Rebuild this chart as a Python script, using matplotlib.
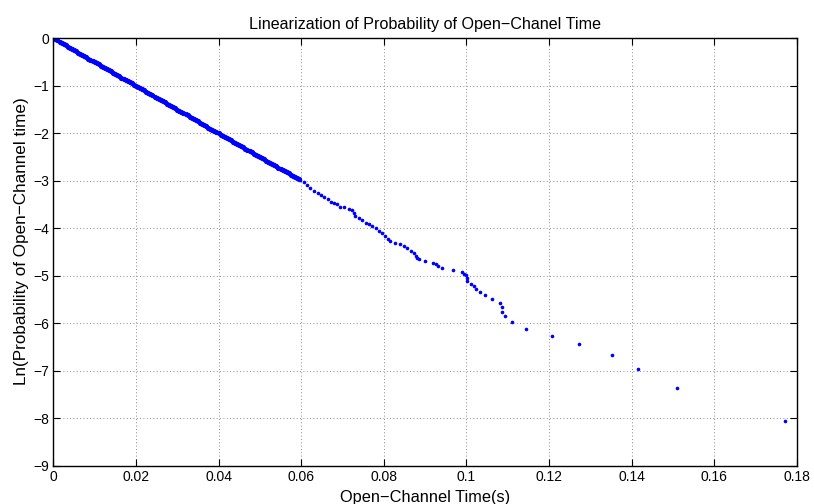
import matplotlib
matplotlib.use('Agg')
import matplotlib.pyplot as plt

# dense part of the curve
dense_t = [0.0000, 0.0005, 0.0010, 0.0015, 0.0020, 0.0025, 0.0030, 0.0035, 0.0040, 0.0045,
           0.0050, 0.0055, 0.0060, 0.0065, 0.0070, 0.0075, 0.0080, 0.0085, 0.0090, 0.0095,
           0.0100, 0.0105, 0.0110, 0.0115, 0.0120, 0.0125, 0.0130, 0.0135, 0.0140, 0.0145,
           0.0150, 0.0155, 0.0160, 0.0165, 0.0170, 0.0175, 0.0180, 0.0185, 0.0190, 0.0195,
           0.0200, 0.0205, 0.0210, 0.0215, 0.0220, 0.0225, 0.0230, 0.0235, 0.0240, 0.0245,
           0.0250, 0.0255, 0.0260, 0.0265, 0.0270, 0.0275, 0.0280, 0.0285, 0.0290, 0.0295,
           0.0300, 0.0305, 0.0310, 0.0315, 0.0320, 0.0325, 0.0330, 0.0335, 0.0340, 0.0345,
           0.0350, 0.0355, 0.0360, 0.0365, 0.0370, 0.0375, 0.0380, 0.0385, 0.0390, 0.0395,
           0.0400, 0.0405, 0.0410, 0.0415, 0.0420, 0.0425, 0.0430, 0.0435, 0.0440, 0.0445,
           0.0450, 0.0455, 0.0460, 0.0465, 0.0470, 0.0475, 0.0480, 0.0485, 0.0490, 0.0495,
           0.0500, 0.0505, 0.0510, 0.0515, 0.0520, 0.0525, 0.0530, 0.0535, 0.0540, 0.0545,
           0.0550, 0.0555, 0.0560, 0.0565, 0.0570, 0.0575, 0.0580, 0.0585, 0.0590, 0.0595]
dense_lnp = [0.000, -0.018, -0.041, -0.072, -0.098, -0.124, -0.151, -0.176, -0.199, -0.224,
             -0.249, -0.276, -0.301, -0.326, -0.350, -0.374, -0.399, -0.425, -0.452, -0.476,
             -0.500, -0.523, -0.548, -0.574, -0.601, -0.627, -0.651, -0.674, -0.698, -0.722,
             -0.748, -0.774, -0.799, -0.825, -0.851, -0.876, -0.899, -0.922, -0.947, -0.973,
             -0.999, -1.026, -1.050, -1.073, -1.097, -1.121, -1.147, -1.175, -1.201, -1.226,
             -1.250, -1.273, -1.297, -1.323, -1.349, -1.376, -1.401, -1.424, -1.448, -1.473,
             -1.500, -1.526, -1.551, -1.575, -1.598, -1.622, -1.648, -1.676, -1.702, -1.727,
             -1.750, -1.772, -1.797, -1.823, -1.850, -1.877, -1.902, -1.925, -1.948, -1.972,
             -1.998, -2.025, -2.051, -2.075, -2.097, -2.121, -2.147, -2.174, -2.201, -2.227,
             -2.250, -2.272, -2.296, -2.322, -2.349, -2.376, -2.402, -2.425, -2.448, -2.472,
             -2.497, -2.523, -2.550, -2.575, -2.598, -2.620, -2.644, -2.670, -2.697, -2.724,
             -2.749, -2.771, -2.794, -2.818, -2.844, -2.870, -2.895, -2.918, -2.940, -2.962]

# sparse tail
tail_t = [0.0598, 0.0606, 0.0614, 0.0622, 0.0630, 0.0640, 0.0648, 0.0656, 0.0664, 0.0672,
          0.0679, 0.0687, 0.0695, 0.0703, 0.0715, 0.0723, 0.0727, 0.0731, 0.0739, 0.0747,
          0.0756, 0.0764, 0.0772, 0.0780, 0.0788, 0.0796, 0.0804, 0.0810, 0.0816, 0.0828,
          0.0839, 0.0849, 0.0857, 0.0867, 0.0873, 0.0877, 0.0881, 0.0885, 0.0899, 0.0919,
          0.0927, 0.0932, 0.0941, 0.0967, 0.0989, 0.0993, 0.0998, 0.1001, 0.1002, 0.1010,
          0.1019, 0.1023, 0.1032, 0.1044, 0.1063, 0.1081, 0.1086, 0.1087, 0.1093, 0.1111,
          0.1145, 0.1206, 0.1272, 0.1353, 0.1415, 0.1509, 0.1770]
tail_lnp = [-2.98, -3.03, -3.085, -3.155, -3.205, -3.26, -3.295, -3.33, -3.385, -3.44,
            -3.46, -3.485, -3.54, -3.56, -3.60, -3.61, -3.67, -3.74, -3.79, -3.82,
            -3.88, -3.91, -3.95, -4.00, -4.05, -4.10, -4.17, -4.22, -4.26, -4.30,
            -4.33, -4.37, -4.42, -4.47, -4.51, -4.58, -4.63, -4.65, -4.68, -4.72,
            -4.75, -4.79, -4.83, -4.87, -4.92, -4.95, -4.99, -5.05, -5.10, -5.16,
            -5.22, -5.28, -5.34, -5.41, -5.48, -5.56, -5.65, -5.75, -5.85, -5.97,
            -6.11, -6.26, -6.44, -6.66, -6.95, -7.36, -8.05]

xticks = [0, 0.02, 0.04, 0.06, 0.08, 0.1, 0.12, 0.14, 0.16, 0.18]
xticklabels = ['0', '0.02', '0.04', '0.06', '0.08', '0.1', '0.12', '0.14', '0.16', '0.18']
yticks = [0, -1, -2, -3, -4, -5, -6, -7, -8, -9]
yticklabels = ['0', '\u22121', '\u22122', '\u22123', '\u22124', '\u22125', '\u22126', '\u22127', '\u22128', '\u22129']

plt.rcParams['font.family'] = ['Liberation Sans', 'DejaVu Sans']

fig = plt.figure(figsize=(8.14, 5.04), dpi=100)
ax = fig.add_axes([0.0655, 0.0754, 0.9135, 0.8486])

# dense part looks like a thick line, tail dots are small
ax.plot(dense_t, dense_lnp, '.', color='#0000ff', markersize=5.5)
ax.plot(tail_t, tail_lnp, '.', color='#0000ff', markersize=3.2)

ax.set_xlim(0, 0.18)
ax.set_ylim(-9, 0)
ax.set_xticks(xticks)
ax.set_xticklabels(xticklabels)
ax.set_yticks(yticks)
ax.set_yticklabels(yticklabels)
ax.tick_params(direction='in', top=True, right=True, labelsize=10, length=5, width=0.8, pad=3)
ax.grid(True, linestyle=(0, (1, 3)), color='#666666', linewidth=0.6)
for s in ax.spines.values():
    s.set_linewidth(1.0)

ax.set_title('Linearization of Probability of Open\u2212Chanel Time', fontsize=11.6, pad=7)
ax.set_xlabel('Open\u2212Channel Time(s)', fontsize=11.8, labelpad=4)
ax.set_ylabel('Ln(Probability of Open\u2212Channel time)', fontsize=12.3, labelpad=0)
ax.yaxis.set_label_coords(-0.033, 0.525)

fig.savefig('out.png', dpi=100)
